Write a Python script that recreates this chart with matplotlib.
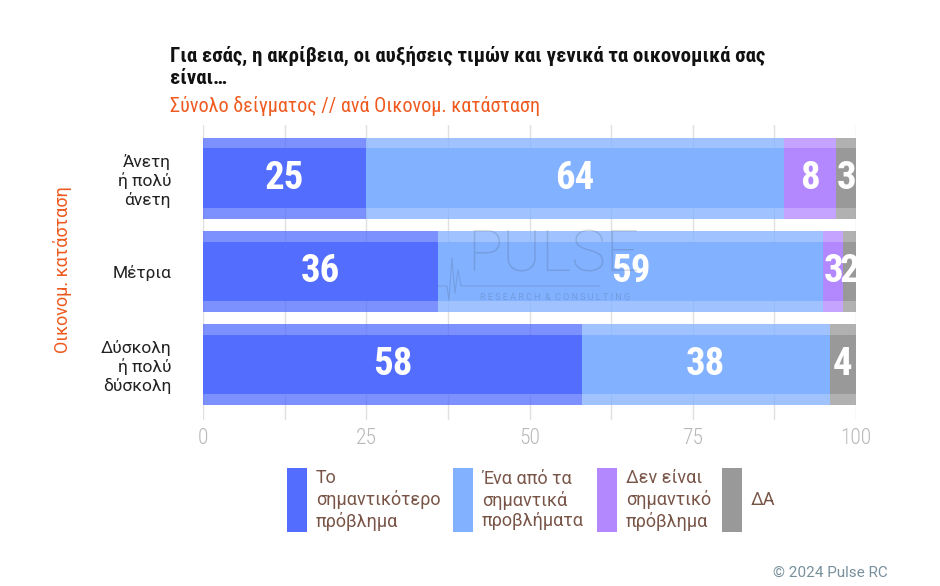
import matplotlib
matplotlib.use("Agg")
import matplotlib.pyplot as plt
from matplotlib.patches import Rectangle
from matplotlib.lines import Line2D
import numpy as np

plt.rcParams['font.family'] = ['Roboto', 'DejaVu Sans']
COND = ['Roboto Condensed', 'Roboto', 'DejaVu Sans']

categories = ["Άνετη\nή πολύ\nάνετη", "Μέτρια", "Δύσκολη\nή πολύ\nδύσκολη"]
series_names = ["Το\nσημαντικότερο\nπρόβλημα", "Ένα από τα\nσημαντικά\nπροβλήματα",
                "Δεν είναι\nσημαντικό\nπρόβλημα", "ΔΑ"]
values_most = [25, 36, 58]
values_one = [64, 59, 38]
values_not = [8, 3, 0]
values_na = [3, 2, 4]
xticks = [0, 25, 50, 75, 100]
title = "Για εσάς, η ακρίβεια, οι αυξήσεις τιμών και γενικά τα οικονομικά σας\nείναι…"
subtitle = "Σύνολο δείγματος // ανά Οικονομ. κατάσταση"
ylabel = "Οικονομ. κατάσταση"
credit = "© 2024 Pulse RC"

colors = ["#536DFE", "#82B1FF", "#B388FF", "#999999"]
series = [values_most, values_one, values_not, values_na]

fig = plt.figure(figsize=(9.4, 5.86), dpi=100)
ax = fig.add_axes([203/940, 1-420/586, (856-203)/940, (420-125)/586])

y = np.arange(len(categories))
left = np.zeros(len(categories))
for vals, col in zip(series, colors):
    vals = np.array(vals, dtype=float)
    ax.barh(y, vals, left=left, height=0.87, color=col, alpha=0.76, linewidth=0, zorder=2)
    ax.barh(y, vals, left=left, height=0.635, color=col, linewidth=0, zorder=3)
    for yi, (l, v) in enumerate(zip(left, vals)):
        if v > 0:
            ax.text(l + v/2, yi, f"{int(v)}", ha='center', va='center', color='white',
                    fontsize=28, fontweight='bold', zorder=6, family=COND)
    left = left + vals

ax.set_xlim(0, 100)
ax.set_ylim(2.6, -0.57)
ax.set_xticks(xticks)
ax.set_xticks(np.arange(0, 101, 12.5), minor=True)
ax.set_xticklabels([str(t) for t in xticks], color="#B8B8B8", fontsize=15.5,
                   fontweight='light', family=COND)
ax.set_yticks(y)
ax.set_yticklabels(categories, fontsize=12.5, color="#222222")
ax.tick_params(axis='y', length=0, pad=23)
ax.tick_params(axis='x', which='both', length=0, pad=6)
for lab in ax.get_yticklabels():
    lab.set_horizontalalignment('right')
    lab.set_multialignment('right')
ax.grid(axis='x', which='both', color="#E0E0E0", linewidth=1, zorder=0)
ax.set_axisbelow(True)
for s in ax.spines.values():
    s.set_visible(False)

# watermark
wm = "#4a5a7a"
fig.text(553/940, 1-256/586, "PULSE", fontsize=42, color=wm, alpha=0.22,
         ha='center', va='center', fontweight='ultralight', zorder=4)
fig.text(555/940, 1-298/586, "R E S E A R C H  &  C O N S U L T I N G", fontsize=6.5,
         color=wm, alpha=0.25, ha='center', va='center', zorder=4)
hx = [437, 447, 449, 452, 455, 458, 461, 600]
hy = [286, 286, 300, 258, 293, 270, 286, 286]
fig.lines.append(Line2D([v/940 for v in hx], [1-v/586 for v in hy], transform=fig.transFigure,
                        color=wm, alpha=0.22, linewidth=0.8, zorder=4))

fig.text(170/940, 1-46/586, title, fontsize=15, fontweight='bold', color="#111111",
         ha='left', va='top', linespacing=1.2, multialignment='left', family=COND)
fig.text(170/940, 1-106/586, subtitle, fontsize=14.5, color="#EE5A1F", ha='left',
         va='center', family=COND)
fig.text(62/940, 1-270/586, ylabel, fontsize=13, color="#EE5A1F", rotation=90,
         ha='center', va='center')

# legend
leg_x = [287, 453, 597, 722]
for lx, name, col in zip(leg_x, series_names, colors):
    fig.patches.append(Rectangle((lx/940, 1-532/586), 20/940, 64/586,
                                 transform=fig.transFigure, color=col, linewidth=0))
    fig.text((lx+29)/940, 1-500/586, name, fontsize=13, color="#795548",
             ha='left', va='center', linespacing=1.2)

fig.text(888/940, 1-573/586, credit, fontsize=11, color="#78909C", ha='right', va='center')

fig.savefig("out.png", dpi=100)
